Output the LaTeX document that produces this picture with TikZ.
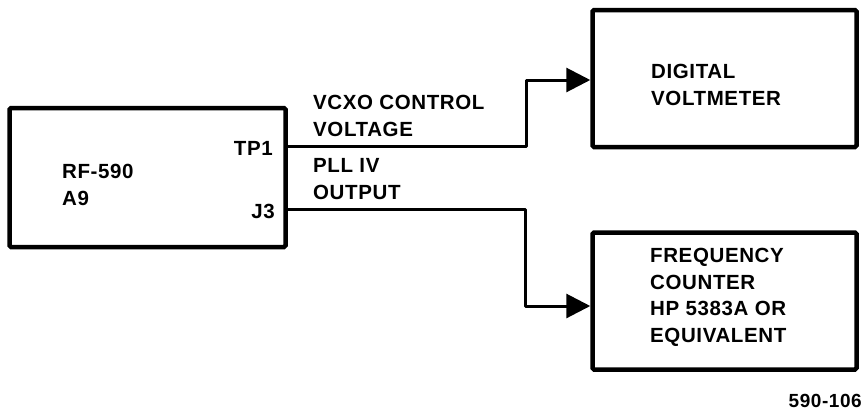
\documentclass[tikz,border=0pt]{standalone}
\usepackage{fontspec}
\setmainfont{Liberation Sans}[LetterSpace=3]
\usetikzlibrary{arrows.meta}
\begin{document}
\begin{tikzpicture}[x=1pt,y=-1pt,
  blk/.style={draw,line width=4.5pt,rounded corners=1.5pt,inner sep=0pt},
  lbl/.style={font=\bfseries\fontsize{20.5}{27}\selectfont,inner sep=0pt,align=left},
  wire/.style={line width=3pt,line join=round},
  arr/.style={wire,-{Triangle[length=24pt,width=24pt]}}]
\useasboundingbox (0,0) rectangle (866,413);
% boxes
\node[blk,minimum width=276pt,minimum height=139pt] (rf) at (147.5,177.5) {};
\node[blk,minimum width=264pt,minimum height=137pt] (dvm) at (724.5,78.5) {};
\node[blk,minimum width=264pt,minimum height=137pt] (fc) at (724.5,301) {};
% texts
\node[lbl,anchor=west] (rft) at (62,185) {RF-590\\A9};
\node[lbl,anchor=east] (tp1t) at (273,148.5) {TP1};
\node[lbl,anchor=east] (j3t) at (275,211.5) {J3};
\node[lbl,anchor=west] (vcxo) at (313,116) {VCXO CONTROL\\VOLTAGE};
\node[lbl,anchor=west] (pll) at (313,179) {PLL IV\\OUTPUT};
\node[lbl,anchor=west] (dvmt) at (651,85) {DIGITAL\\VOLTMETER};
\node[lbl,anchor=west,font=\bfseries\fontsize{20.5}{26.5}\selectfont] (fct) at (650,297.5) {FREQUENCY\\COUNTER\\HP 5383A OR\\EQUIVALENT};
\node[lbl,anchor=east,font=\bfseries\fontsize{19}{20}\selectfont] (fig) at (862,401) {590-106};
% connector ends
\coordinate (tp1) at (rf.east |- 0,146);
\coordinate (j3) at (rf.east |- 0,209);
\coordinate (dvmin) at (dvm.west |- 0,80);
\coordinate (fcin) at (fc.west |- 0,306);
\draw[arr] (tp1) -- ++(239,0) |- (dvmin);
\draw[arr] (j3) -- ++(238,0) |- (fcin);
\end{tikzpicture}
\end{document}
